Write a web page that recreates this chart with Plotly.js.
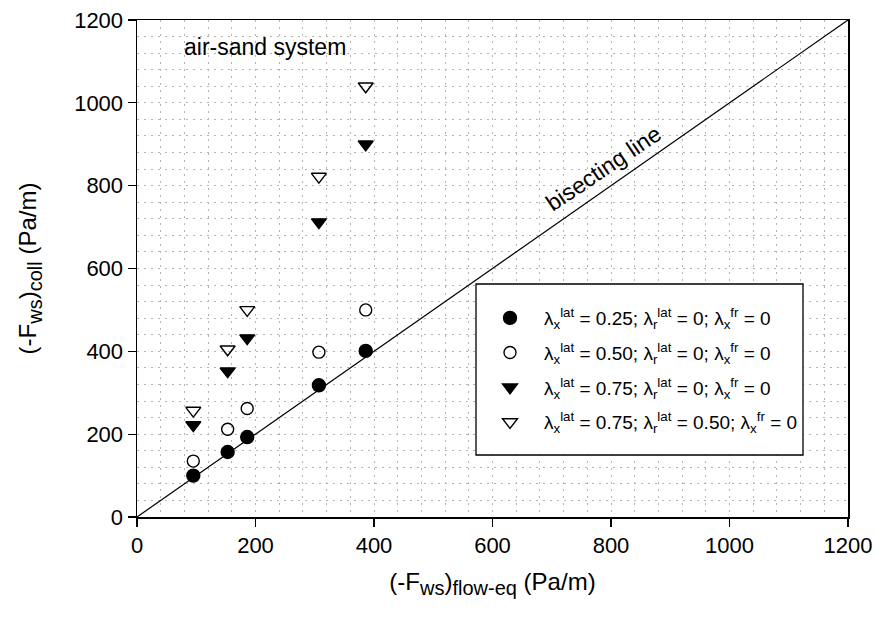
<!DOCTYPE html>
<html><head><meta charset="utf-8">
<script src="https://cdn.plot.ly/plotly-3.0.1.min.js"></script>
<style>body{margin:0;padding:0;background:#fff}#chart{width:875px;height:617px}</style>
</head><body><div id="chart"></div>
<script>
const xFlowEq = [95, 153, 186, 307, 386];
const yLat025 = [100, 157, 193, 318, 401];
const yLat050 = [135, 212, 262, 398, 500];
const yLat075 = [222, 352, 432, 712, 900];
const yLat075r050 = [257, 405, 500, 822, 1040];
const bisectX = [0, 1200];
const bisectY = [0, 1200];
const names = [
  "λ<sub>x</sub><sup>lat</sup> = 0.25; λ<sub>r</sub><sup>lat</sup> = 0; λ<sub>x</sub><sup>fr</sup> = 0",
  "λ<sub>x</sub><sup>lat</sup> = 0.50; λ<sub>r</sub><sup>lat</sup> = 0; λ<sub>x</sub><sup>fr</sup> = 0",
  "λ<sub>x</sub><sup>lat</sup> = 0.75; λ<sub>r</sub><sup>lat</sup> = 0; λ<sub>x</sub><sup>fr</sup> = 0",
  "λ<sub>x</sub><sup>lat</sup> = 0.75; λ<sub>r</sub><sup>lat</sup> = 0.50; λ<sub>x</sub><sup>fr</sup> = 0"
];
const xTitle = "(-F<sub><span style=\"font-size:20px\">ws</span></sub>)<sub><span style=\"font-size:20px\">flow-eq</span></sub> (Pa/m)";
const yTitle = "(-F<sub><span style=\"font-size:20px\">ws</span></sub>)<sub><span style=\"font-size:20px\">coll</span></sub> (Pa/m)";
const font = "Liberation Sans, Arial, sans-serif";
const mk = (sym, size) => ({symbol: sym, size: size, color: "black", line: {color: "black", width: 1.4}});
const traces = [
  {x: bisectX, y: bisectY, mode: "lines", line: {color: "black", width: 1.2}, showlegend: false, hoverinfo: "skip"},
  {x: xFlowEq, y: yLat025, mode: "markers", name: names[0], legendgroup: "a", marker: mk("circle", 13)},
  {x: xFlowEq, y: yLat050, mode: "markers", name: names[1], legendgroup: "b", marker: mk("circle-open", 12)},
  {x: xFlowEq, y: yLat075, mode: "markers", name: names[2], legendgroup: "c", marker: mk("triangle-down", 13)},
  {x: xFlowEq, y: yLat075r050, mode: "markers", name: names[3], legendgroup: "d", marker: mk("triangle-down-open", 13)}
];
const gridDash = "2px,5px";
const axisCommon = {
  range: [0, 1200], dtick: 200, tick0: 0, ticks: "outside", ticklen: 8, tickwidth: 1.2, tickcolor: "black",
  showline: true, linecolor: "black", linewidth: 1.5, mirror: true, zeroline: false,
  showgrid: true, gridcolor: "#b4b4b4", griddash: gridDash, gridwidth: 1,
  minor: {dtick: 40, showgrid: true, gridcolor: "#b4b4b4", griddash: gridDash, gridwidth: 1},
  tickfont: {family: font, size: 22, color: "black"}
};
const layout = {
  width: 875, height: 617,
  margin: {l: 137, r: 27, t: 20, b: 100},
  paper_bgcolor: "white", plot_bgcolor: "white",
  font: {family: font, color: "black"},
  xaxis: Object.assign({}, axisCommon, {title: {text: xTitle, font: {family: font, size: 24}, standoff: 16}}),
  yaxis: Object.assign({}, axisCommon, {title: {text: yTitle, font: {family: font, size: 24}, standoff: 30}}),
  showlegend: true,
  legend: {x: 0.4768, y: 0.4386, xanchor: "left", yanchor: "top", borderwidth: 0,
    bgcolor: "rgba(0,0,0,0)", font: {family: font, size: 19, color: "black"}, tracegroupgap: 7, itemwidth: 58},
  shapes: [
    {type: "rect", xref: "paper", yref: "paper", x0: 0.4768, x1: 0.9367, y0: 0.1247, y1: 0.4688,
     line: {color: "black", width: 1.3}, fillcolor: "white", layer: "above"}
  ],
  annotations: [
    {x: 216, y: 1135, xref: "x", yref: "y", text: "air-sand system", showarrow: false, font: {family: font, size: 23}},
    {x: 788, y: 842, xref: "x", yref: "y", text: "bisecting line", showarrow: false, textangle: -34, font: {family: font, size: 23}}
  ]
};
Plotly.newPlot("chart", traces, layout, {displayModeBar: false, staticPlot: true});
</script></body></html>
